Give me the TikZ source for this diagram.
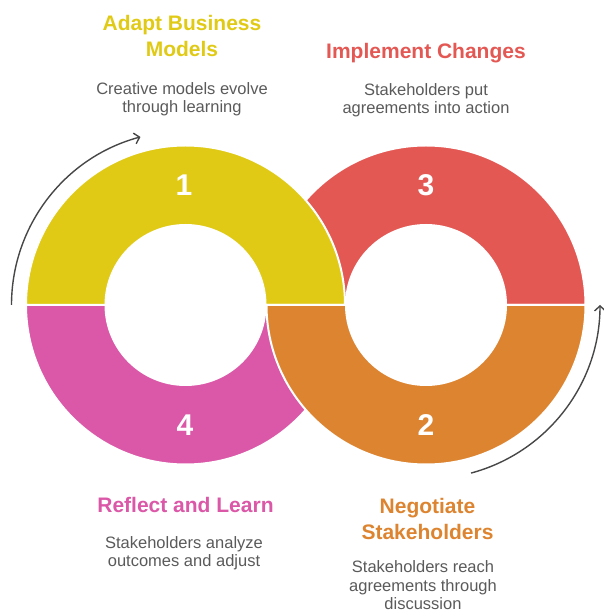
\documentclass[tikz,border=0pt]{standalone}
\usepackage{fontspec}
\setmainfont{Liberation Sans}
\usetikzlibrary{arrows.meta}

\definecolor{stepyellow}{HTML}{E0CA16}
\definecolor{stepred}{HTML}{E45854}
\definecolor{steporange}{HTML}{DD8430}
\definecolor{steppink}{HTML}{DB57A8}
\definecolor{bodygray}{HTML}{5A5A5A}
\definecolor{arrowgray}{HTML}{474747}

\tikzset{
  half/.style={fill=#1, draw=white, line width=2pt},
  num/.style={text=white, font=\fontsize{30}{30}\selectfont\bfseries},
  title/.style={text=#1, align=center, anchor=base, font=\fontsize{21}{26}\selectfont\bfseries},
  desc/.style={text=bodygray, align=center, anchor=base, font=\fontsize{16.5}{18.5}\selectfont},
  cycle arrow/.style={draw=arrowgray, line width=1.4pt, -{Straight Barb[length=5pt,width=11pt]}}
}

\begin{document}
\begin{tikzpicture}[x=1pt,y=1pt]
\useasboundingbox (0,0) rectangle (603,616);

% lower halves go under, upper halves go over
\path[half=steppink, shift={(185.5,311)}] (180:159.5) arc[start angle=180, end angle=360, radius=159.5]
    -- (0:80) arc[start angle=360, end angle=180, radius=80] -- cycle;
\path[half=stepred, shift={(426,311)}] (0:159.5) arc[start angle=0, end angle=180, radius=159.5]
    -- (180:80) arc[start angle=180, end angle=0, radius=80] -- cycle;
\path[half=stepyellow, shift={(185.5,311)}] (0:159.5) arc[start angle=0, end angle=180, radius=159.5]
    -- (180:80) arc[start angle=180, end angle=0, radius=80] -- cycle;
\path[half=steporange, shift={(426,311)}] (180:159.5) arc[start angle=180, end angle=360, radius=159.5]
    -- (0:80) arc[start angle=360, end angle=180, radius=80] -- cycle;

\node[num] (n1) at (184,431) {1};
\node[num] (n2) at (426,191) {2};
\node[num] (n3) at (426,431) {3};
\node[num] (n4) at (185,191) {4};

% the two turning arrows
\coordinate (turn-a) at (11.5,311);
\coordinate (turn-b) at ([shift={(426,311)}]-75:174);
\draw[cycle arrow] (turn-a) arc[start angle=180, end angle=105, radius=174];
\draw[cycle arrow] (turn-b) arc[start angle=-75, end angle=0, radius=174];

% base anchor sits on the last line
\node[title=stepyellow] (t1) at (182,559) {Adapt Business\\Models};
\node[desc] (d1) at (182,503) {Creative models evolve\\through learning};

\node[title=stepred] (t3) at (426,557) {Implement Changes};
\node[desc] (d3) at (426,502) {Stakeholders put\\agreements into action};

\node[title=steppink] (t4) at (185.5,103) {Reflect and Learn};
\node[desc] (d4) at (184,49) {Stakeholders analyze\\outcomes and adjust};

\node[title=steporange] (t2) at (427.5,76) {Negotiate\\Stakeholders};
\node[desc] (d2) at (423,6) {Stakeholders reach\\agreements through\\discussion};

\end{tikzpicture}
\end{document}
